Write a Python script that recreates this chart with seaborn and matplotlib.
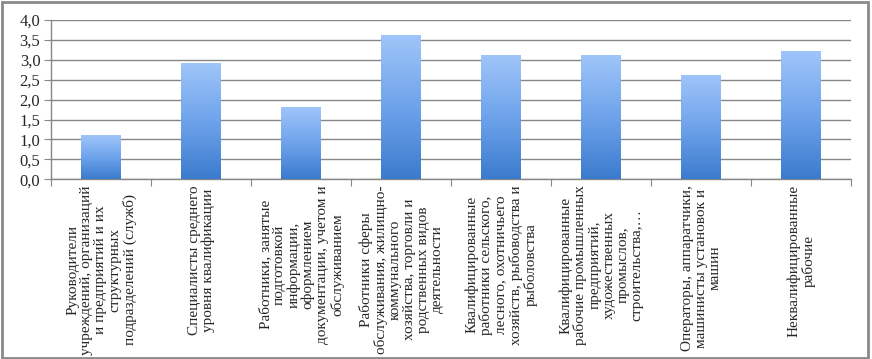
import matplotlib
matplotlib.use("Agg")
import matplotlib.pyplot as plt
import matplotlib.ticker as mticker
from matplotlib.colors import LinearSegmentedColormap
from matplotlib.patches import Rectangle
import numpy as np
import pandas as pd
import seaborn as sns

categories = [
    "Руководители\nучреждений, организаций\nи предприятий и их\nструктурных\nподразделений (служб)",
    "Специалисты среднего\nуровня квалификации",
    "Работники, занятые\nподготовкой\nинформации,\nоформлением\nдокументации, учетом и\nобслуживанием",
    "Работники сферы\nобслуживания, жилищно-\nкоммунального\nхозяйства, торговли и\nродственных видов\nдеятельности",
    "Квалифицированные\nработники сельского,\nлесного, охотничьего\nхозяйств, рыбоводства и\nрыболовства",
    "Квалифицированные\nрабочие промышленных\nпредприятий,\nхудожественных\nпромыслов,\nстроительства,…",
    "Операторы, аппаратчики,\nмашинисты установок и\nмашин",
    "Неквалифицированные\nрабочие",
]
values = [1.1, 2.9, 1.8, 3.6, 3.1, 3.1, 2.6, 3.2]

df = pd.DataFrame({"group": categories, "value": values})

sns.set_style("white")
plt.rcParams["font.family"] = ["Liberation Serif", "DejaVu Serif"]

fig = plt.figure(figsize=(8.72, 3.59), dpi=100)
ax = fig.add_axes([0.059, 0.501, 0.917, 0.443])

sns.barplot(data=df, x="group", y="value", width=0.4, color="#5b95e0", ax=ax, zorder=3)

# vertical gradient fill like the original office chart
grad = LinearSegmentedColormap.from_list("bar", ["#3b7bcd", "#6ea3eb", "#9fc5f9"])
g = np.linspace(0, 1, 256).reshape(-1, 1)
for p in ax.patches:
    x0, w, h = p.get_x(), p.get_width(), p.get_height()
    ax.imshow(g, cmap=grad, origin="lower", aspect="auto",
              extent=[x0, x0 + w, 0, h], zorder=3)
    p.set_facecolor("none")
    p.set_edgecolor("none")

ax.set_xlim(-0.5, len(categories) - 0.5)
ax.set_ylim(0, 4.0)
ax.set_yticks(np.arange(0, 4.01, 0.5))
ax.yaxis.set_major_formatter(mticker.FuncFormatter(lambda v, _: f"{v:.1f}".replace(".", ",")))
ax.grid(axis="y", color="#878787", linewidth=1.0, zorder=0)
ax.set_axisbelow(True)

for side in ["top", "right"]:
    ax.spines[side].set_visible(False)
for side in ["left", "bottom"]:
    ax.spines[side].set_color("#878787")
    ax.spines[side].set_linewidth(1.0)

ax.set_xlabel("")
ax.set_ylabel("")
ax.tick_params(axis="y", labelsize=12, length=5, color="#878787", pad=3, left=True)

# category boundary ticks, labels centred under each bar
ax.set_xticks(np.arange(-0.5, len(categories), 1.0))
ax.set_xticklabels([])
ax.tick_params(axis="x", length=5, color="#878787", bottom=True)
for i, lab in enumerate(categories):
    ax.text(i, -0.15, lab, rotation=90, ha="center", va="top",
            multialignment="center", fontsize=11, linespacing=1.1,
            transform=ax.transData, clip_on=False)

# outer chart frame
fig.patches.append(Rectangle((0.002, 0.004), 0.993, 0.99, transform=fig.transFigure,
                             fill=False, edgecolor="#8a8a8a", linewidth=2.0))

fig.savefig("out.png", dpi=100)
